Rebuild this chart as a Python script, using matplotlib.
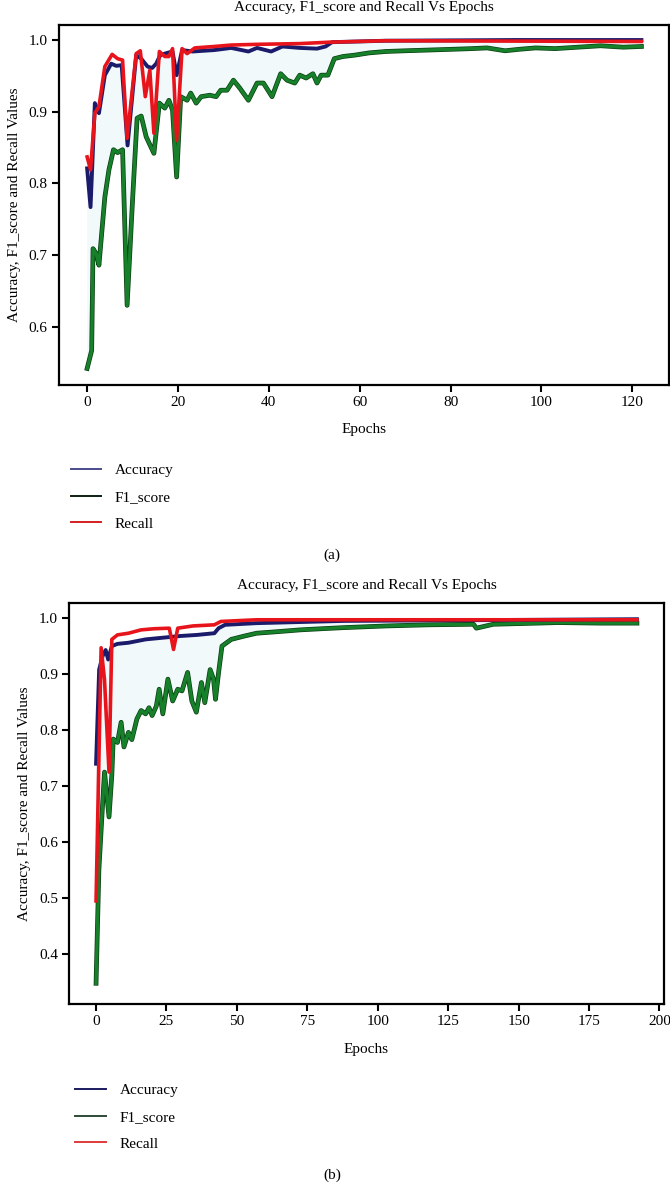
import matplotlib
matplotlib.use("Agg")
import matplotlib.pyplot as plt
import matplotlib.patheffects as pe
from matplotlib.lines import Line2D

plt.rcParams['font.family'] = ['Liberation Serif', 'DejaVu Serif']

# ---- panel (a) data
a_acc_x = [0, 0.75, 1.7, 2.6, 3.9, 5.3, 6.4, 7.6, 8.9, 10.8, 11.9, 13.3, 14.3, 15.2, 16.1, 17.6,
           18.8, 19.7, 20.9, 23.2, 28, 31.7, 35.5, 37.4, 40.5, 43, 46.8, 50.6, 52.5, 53.9, 65.7, 94, 122]
a_acc_y = [0.821, 0.767, 0.912, 0.898, 0.951, 0.967, 0.964, 0.965, 0.853, 0.979, 0.974, 0.963, 0.961,
           0.967, 0.979, 0.982, 0.984, 0.951, 0.986, 0.984, 0.986, 0.989, 0.984, 0.989, 0.984, 0.991,
           0.989, 0.988, 0.991, 0.997, 0.999, 1.0, 1.0]

a_f1_x = [0, 1.0, 1.3, 2.0, 2.6, 3.9, 4.8, 5.8, 6.7, 7.8, 8.8, 10, 11, 11.9, 13, 14.7, 15.9, 17.1,
          18, 18.8, 19.7, 20.6, 22, 22.8, 24, 25.1, 27, 28.4, 29.4, 30.8, 32.2, 33.6, 35.5, 37.4,
          38.8, 40.7, 42.6, 44, 45.7, 46.8, 48.2, 49.7, 50.6, 51.5, 53, 54.4, 56.3, 59, 62, 65.7,
          70, 75, 80, 84.6, 88, 92, 95, 98.7, 103, 108, 113, 118, 122]
a_f1_y = [0.542, 0.567, 0.709, 0.702, 0.686, 0.781, 0.819, 0.847, 0.843, 0.847, 0.630, 0.777, 0.891,
          0.894, 0.865, 0.842, 0.912, 0.905, 0.916, 0.902, 0.809, 0.921, 0.916, 0.926, 0.912, 0.921,
          0.923, 0.921, 0.930, 0.930, 0.944, 0.933, 0.916, 0.940, 0.940, 0.921, 0.953, 0.944, 0.940,
          0.951, 0.947, 0.953, 0.940, 0.951, 0.951, 0.974, 0.977, 0.979, 0.982, 0.984, 0.985, 0.986,
          0.987, 0.988, 0.989, 0.985, 0.987, 0.989, 0.988, 0.990, 0.992, 0.990, 0.991]

a_rec_x = [0, 0.75, 1.7, 2.6, 3.9, 5.5, 6.7, 7.8, 8.8, 10.8, 11.7, 12.8, 13.8, 14.7, 15.9, 17.1,
           18, 18.8, 19.7, 20.9, 22, 23.7, 28, 31.7, 37.4, 46.8, 53.4, 65.7, 122]
a_rec_y = [0.837, 0.819, 0.898, 0.907, 0.963, 0.980, 0.974, 0.972, 0.863, 0.981, 0.985, 0.921, 0.958,
           0.870, 0.984, 0.977, 0.977, 0.988, 0.860, 0.988, 0.981, 0.989, 0.991, 0.993, 0.994, 0.995,
           0.997, 0.999, 0.998]

# ---- panel (b) data
b_acc_x = [0, 1.1, 2.3, 3.4, 4.3, 5.6, 7.6, 11.5, 17.6, 23.7, 29.8, 35.9, 42, 43.5, 45.8, 57, 88, 192]
b_acc_y = [0.740, 0.908, 0.932, 0.943, 0.926, 0.950, 0.954, 0.956, 0.962, 0.965, 0.968, 0.970, 0.973,
           0.982, 0.988, 0.991, 0.995, 0.998]

b_f1_x = [0, 1.0, 2.3, 3.0, 4.6, 5.6, 6.1, 7.6, 8.9, 9.9, 11.5, 12.7, 14.5, 16, 17.6, 18.8, 19.9,
          21.4, 22.4, 23.7, 25.5, 27.2, 29, 30.5, 32.5, 34, 35.6, 37.4, 38.6, 40.5, 41.7, 42.4, 43.5,
          44.7, 48, 52.7, 57, 65, 72.5, 80, 88, 103, 118, 134, 135, 141, 156.5, 164, 179, 192]
b_f1_y = [0.348, 0.550, 0.666, 0.725, 0.645, 0.720, 0.784, 0.778, 0.814, 0.770, 0.796, 0.783, 0.820,
          0.835, 0.829, 0.840, 0.826, 0.843, 0.873, 0.829, 0.891, 0.852, 0.873, 0.870, 0.903, 0.852,
          0.832, 0.885, 0.849, 0.908, 0.891, 0.855, 0.903, 0.950, 0.962, 0.968, 0.973, 0.976, 0.979,
          0.981, 0.983, 0.986, 0.988, 0.989, 0.982, 0.989, 0.991, 0.992, 0.991, 0.991]

b_rec_x = [0, 1.8, 3.0, 4.6, 5.6, 7.6, 11.5, 16, 20.6, 26, 27.5, 29, 34.4, 42, 44.3, 57, 192]
b_rec_y = [0.495, 0.947, 0.890, 0.725, 0.962, 0.970, 0.973, 0.979, 0.981, 0.982, 0.944, 0.982, 0.986,
           0.988, 0.994, 0.997, 0.997]

title = "Accuracy, F1_score and Recall Vs Epochs"
ylab = "Accuracy, F1_score and Recall Values"
labels = ["Accuracy", "F1_score", "Recall"]
fs = 11

fig = plt.figure(figsize=(6.7, 11.83), dpi=100)

def draw(ax, acc, f1, rec):
    # faint shading between the accuracy and f1 curves
    ax.fill(list(acc[0]) + list(f1[0])[::-1], list(acc[1]) + list(f1[1])[::-1],
            color="#e4f3f8", alpha=0.45, lw=0)
    ax.plot(f1[0], f1[1], color="#16802a", lw=2.4,
            path_effects=[pe.Stroke(linewidth=3.4, foreground="#0a3d12"), pe.Normal()])
    ax.plot(acc[0], acc[1], color="#1b1b6b", lw=2.8)
    ax.plot(rec[0], rec[1], color="#e8141c", lw=2.6)
    for s in ax.spines.values():
        s.set_linewidth(1.6)
    ax.tick_params(direction='out', length=5, width=1.5, labelsize=fs, pad=3)
    ax.set_title(title, fontsize=fs, pad=10)
    ax.set_xlabel("Epochs", fontsize=fs, labelpad=10)
    ax.set_ylabel(ylab, fontsize=fs, labelpad=6)

axa = fig.add_axes([0.088, 0.6746, 0.910, 0.3043])
draw(axa, (a_acc_x, a_acc_y), (a_f1_x, a_f1_y), (a_rec_x, a_rec_y))
axa.set_xlim(-6.2, 128)
axa.set_ylim(0.519, 1.021)
axa.set_xticks(range(0, 121, 20))
axa.set_yticks([0.6, 0.7, 0.8, 0.9, 1.0])

axb = fig.add_axes([0.103, 0.1513, 0.888, 0.339])
draw(axb, (b_acc_x, b_acc_y), (b_f1_x, b_f1_y), (b_rec_x, b_rec_y))
axb.set_xlim(-9.6, 201.6)
axb.set_ylim(0.311, 1.027)
axb.set_xticks(range(0, 201, 25))
axb.set_yticks([0.4, 0.5, 0.6, 0.7, 0.8, 0.9, 1.0])
axb.xaxis.labelpad = 11

# legends below each panel
ha = [Line2D([], [], color=c, lw=1.4) for c in ["#4b4b8a", "#0e1f12", "#d42020"]]
fig.legend(ha, labels, loc="upper left", bbox_to_anchor=(0.085, 1 - 450 / 1183),
           frameon=False, fontsize=fs, handlelength=2.0, handletextpad=0.9, labelspacing=0.85)
hb = [Line2D([], [], color=c, lw=1.4) for c in ["#1a1a5e", "#2f4a38", "#e03a3a"]]
fig.legend(hb, labels, loc="upper left", bbox_to_anchor=(0.092, 1 - 1070 / 1183),
           frameon=False, fontsize=fs, handlelength=2.0, handletextpad=0.9, labelspacing=0.85)

fig.text(332 / 670, 1 - 555 / 1183, "(a)", ha="center", va="center", fontsize=fs)
fig.text(332 / 670, 1 - 1175 / 1183, "(b)", ha="center", va="center", fontsize=fs)

fig.savefig("out.png", dpi=100)
